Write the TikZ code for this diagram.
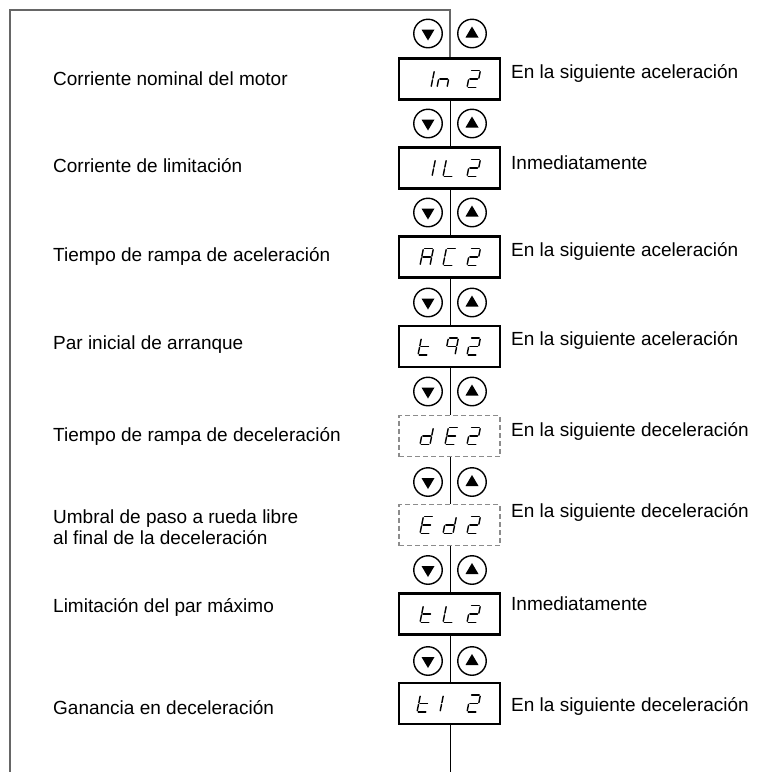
\documentclass[tikz,border=0pt]{standalone}
\usepackage{fontspec}
\setmainfont{Liberation Sans}
\usetikzlibrary{positioning}

\tikzset{
  display/.style={draw,line width=2.3pt,minimum width=101pt,minimum height=41pt,inner sep=0pt},
  ghost/.style={draw=black!45,dash pattern=on 5pt off 3pt,line width=1.1pt,minimum width=101pt,minimum height=41pt,inner sep=0pt},
  keydown/.style={circle,draw,line width=1.4pt,minimum size=28.5pt,inner sep=0pt,
    path picture={\fill ([shift={(-6.5,-4)}]path picture bounding box.center) -- ++(13,0) -- ++(-6.5,11) -- cycle;}},
  keyup/.style={circle,draw,line width=1.4pt,minimum size=28.5pt,inner sep=0pt,
    path picture={\fill ([shift={(-6.5,4)}]path picture bounding box.center) -- ++(13,0) -- ++(-6.5,-11) -- cycle;}},
  frame/.style={black!60,line width=1.1pt},
  wire/.style={line width=0.9pt},
  lbl/.style={anchor=west,inner sep=0pt,font=\fontsize{19}{21.5}\selectfont,align=left},
  ledseg/.style={line width=1.4pt,line cap=round},
  seg a/.style={insert path={(1.2,17)--(8.8,17)}},
  seg b/.style={insert path={(10,15.8)--(10,9.4)}},
  seg c/.style={insert path={(10,7.6)--(10,1.2)}},
  seg d/.style={insert path={(1.2,0)--(8.8,0)}},
  seg e/.style={insert path={(0,1.2)--(0,7.6)}},
  seg f/.style={insert path={(0,9.4)--(0,15.8)}},
  seg g/.style={insert path={(1.2,8.5)--(8.8,8.5)}}
}

% one seven-segment character: left x, base y, segments
\newcommand{\ledchar}[3]{%
  \edef\seglist{#3}%
  \begin{scope}[shift={(#1,#2)},yscale=-1,xslant=-0.2]
    \foreach \t in \seglist {\draw[ledseg,seg \t];}
  \end{scope}}

\begin{document}
\begin{tikzpicture}[x=1pt,y=-1pt]
\useasboundingbox (0,0) rectangle (756,772);

% displays
\foreach \i/\y/\kind in {1/79/display,2/168/display,3/257/display,4/346.5/display,
                         5/436/ghost,6/525/ghost,7/614/display,8/703.5/display}
{
    \node[\kind] (d\i) at (449.5,\y) {};
}

% keys
\foreach \i/\y in {1/33.5,2/123.5,3/212.5,4/302.5,5/391.5,6/482,7/570,8/661}
{
    \node[keydown] (dn\i) at (428,\y) {};
    \node[keyup] (up\i) at (472,\y) {};
}

% frame and wiring
\coordinate (tl) at (10,10);
\coordinate (tr) at (450,10);
\coordinate (bl) at (10,772);
\coordinate (bot) at (450,772);
\draw[frame] (bl) -- (tl) -- (tr) -- (d1.north -| tr);
\foreach \i [count=\j from 2] in {1,...,7}
    \draw[wire] (d\i.south -| tr) -- (d\j.north -| tr);
\draw[wire] (d8.south -| tr) -- (bot);

% codes
\foreach \x/\s in {421/{b,c},437/{c,e,g},467/{a,b,g,e,d}} {\ledchar{\x}{87.5}{\s}}
\foreach \x/\s in {422/{b,c},443/{f,e,d},467/{a,b,g,e,d}} {\ledchar{\x}{176.5}{\s}}
\foreach \x/\s in {420/{a,b,c,e,f,g},443/{a,f,e,d},467/{a,b,g,e,d}} {\ledchar{\x}{265.5}{\s}}
\foreach \x/\s in {418/{f,e,d,g},445/{a,b,c,f,g},467/{a,b,g,e,d}} {\ledchar{\x}{355}{\s}}
\foreach \x/\s in {420/{b,c,d,e,g},445/{a,d,e,f,g},467/{a,b,g,e,d}} {\ledchar{\x}{444.5}{\s}}
\foreach \x/\s in {420/{a,d,e,f,g},443/{b,c,d,e,g},467/{a,b,g,e,d}} {\ledchar{\x}{533.5}{\s}}
\foreach \x/\s in {420/{f,e,d,g},443/{f,e,d},467/{a,b,g,e,d}} {\ledchar{\x}{622.5}{\s}}
\foreach \x/\s in {417/{f,e,d,g},440/{e,f},467/{a,b,g,e,d}} {\ledchar{\x}{712}{\s}}

% parameters
\node[lbl] (p1) at (53,79) {Corriente nominal del motor};
\node[lbl] (p2) at (53,166) {Corriente de limitación};
\node[lbl] (p3) at (53,256) {Tiempo de rampa de aceleración};
\node[lbl] (p4) at (53,345) {Par inicial de arranque};
\node[lbl] (p5) at (53,436) {Tiempo de rampa de deceleración};
\node[lbl] (p6) at (53,527) {Umbral de paso a rueda libre\\al final de la deceleración};
\node[lbl] (p7) at (53,607) {Limitación del par máximo};
\node[lbl] (p8) at (53,708) {Ganancia en deceleración};

% when it applies
\node[lbl] (w1) at (511,73) {En la siguiente aceleración};
\node[lbl] (w2) at (511,163) {Inmediatamente};
\node[lbl] (w3) at (511,251) {En la siguiente aceleración};
\node[lbl] (w4) at (511,340) {En la siguiente aceleración};
\node[lbl] (w5) at (511,431) {En la siguiente deceleración};
\node[lbl] (w6) at (511,512) {En la siguiente deceleración};
\node[lbl] (w7) at (511,604) {Inmediatamente};
\node[lbl] (w8) at (511,706) {En la siguiente deceleración};
\end{tikzpicture}
\end{document}
